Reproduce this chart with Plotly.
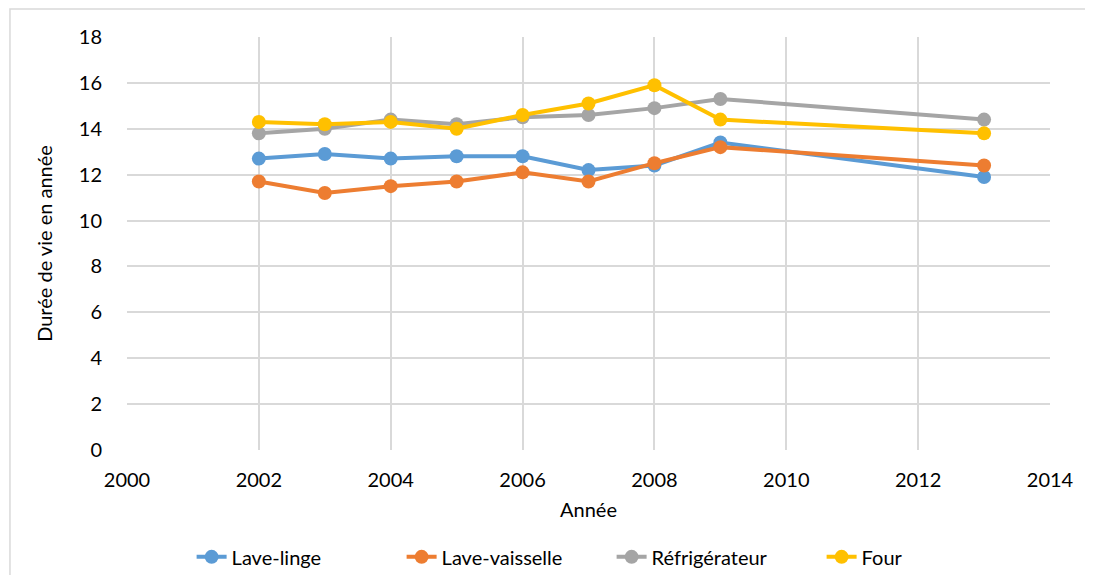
import plotly.graph_objects as go

years = [2002, 2003, 2004, 2005, 2006, 2007, 2008, 2009, 2013]
lave_linge = [12.7, 12.9, 12.7, 12.8, 12.8, 12.2, 12.4, 13.4, 11.9]
lave_vaisselle = [11.7, 11.2, 11.5, 11.7, 12.1, 11.7, 12.5, 13.2, 12.4]
refrigerateur = [13.8, 14.0, 14.4, 14.2, 14.5, 14.6, 14.9, 15.3, 14.4]
four = [14.3, 14.2, 14.3, 14.0, 14.6, 15.1, 15.9, 14.4, 13.8]

series = [
    ("Lave-linge", lave_linge, "#5B9BD5"),
    ("Lave-vaisselle", lave_vaisselle, "#ED7D31"),
    ("Réfrigérateur", refrigerateur, "#A5A5A5"),
    ("Four", four, "#FFC000"),
]

fig = go.Figure()
for name, vals, col in series:
    fig.add_trace(go.Scatter(x=years, y=vals, name=name, mode="lines+markers",
                             line=dict(color=col, width=4),
                             marker=dict(color=col, size=14)))

font = "Lato, Carlito, Calibri, sans-serif"
fig.update_layout(
    width=1085, height=567,
    paper_bgcolor="white", plot_bgcolor="white",
    margin=dict(l=119, r=43, t=29, b=125, autoexpand=False),
    font=dict(family=font, size=20, color="#000000"),
    showlegend=True,
    legend=dict(orientation="h", x=0.07, xanchor="left", yref="container", y=0.032,
                yanchor="middle", font=dict(size=20), entrywidth=165,
                entrywidthmode="pixels", traceorder="normal"),
    xaxis=dict(range=[2000, 2014], dtick=2, showgrid=True, gridcolor="#D9D9D9", gridwidth=1.5,
               zeroline=False, showline=False, ticks="outside", ticklen=12, tickcolor="white",
               title=dict(text="Année", font=dict(size=20), standoff=12)),
    yaxis=dict(range=[0, 18], dtick=2, showgrid=True, gridcolor="#D9D9D9", gridwidth=1.5,
               zeroline=False, showline=False, ticks="outside", ticklen=20, tickcolor="white",
               title=dict(text="Durée de vie en année", font=dict(size=20), standoff=20)),
    shapes=[dict(type="rect", xref="paper", yref="paper", x0=-0.1268, x1=1.2, y0=-0.5, y1=1.0678,
                 line=dict(color="#D9D9D9", width=1.5), fillcolor="rgba(0,0,0,0)", layer="below")],
)

fig.write_html("out.html")
